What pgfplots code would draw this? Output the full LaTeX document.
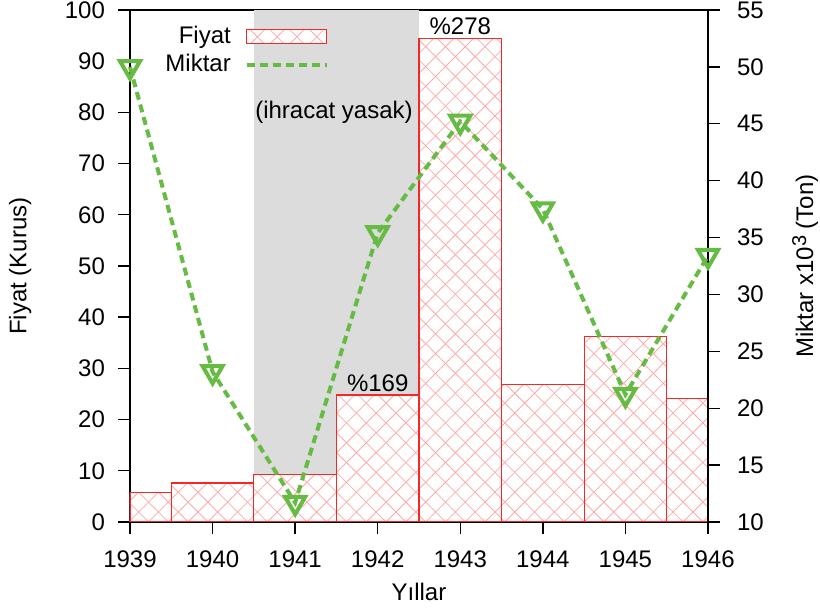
\documentclass[border=0pt]{standalone}
\usepackage{fontspec}
\setmainfont{Liberation Sans}
\usepackage{pgfplots}
\pgfplotsset{compat=1.18}
\usetikzlibrary{patterns.meta}
\definecolor{mgreen}{RGB}{102,187,68}
\definecolor{mred}{RGB}{245,40,40}
\definecolor{mhatch}{RGB}{255,170,170}
\definecolor{mgray}{RGB}{220,220,220}
\pgfplotsset{
  barlegend/.style={legend image code/.code={\path (0pt,0pt); \draw[##1] (5pt,-3.5pt) rectangle (45pt,3.5pt);}},
  linelegend/.style={legend image code/.code={\path (0pt,0pt); \draw[##1] (5pt,0pt) -- (45pt,0pt);}}}
\begin{document}
\begin{tikzpicture}
\path[use as bounding box] (-65pt,-44.5pt) rectangle (345pt,261pt);
\pgfplotsset{common/.style={at={(0,0)}, anchor=south west, scale only axis,
  width=289pt, height=256pt, xmin=1939, xmax=1946,
  /pgf/number format/assume math mode=true, /pgf/number format/1000 sep={},
  tick align=outside, major tick length=6pt,
  tick style={black, line width=0.7pt}, axis line style={line width=0.8pt},
  every tick label/.append style={font=\fontsize{12}{14}\selectfont},
  label style={font=\fontsize{12}{14}\selectfont}}}
\begin{axis}[common, ymin=0, ymax=100, ytick={0,10,...,100}, xtick={1939,...,1946},
  xtick pos=left, ytick pos=left,
  xticklabel style={yshift=-5pt},
  yticklabel style={xshift=-3pt},
  xlabel={Yıllar}, ylabel={Fiyat (Kurus)},
  xlabel style={at={(axis description cs:0.5,-0.137)}, anchor=center},
  ylabel style={at={(axis description cs:-0.19,0.5)}, anchor=center},
  legend plot pos=right,
  legend style={at={(0.355,0.985)}, anchor=north east, draw=none, fill=none,
    legend cell align=right, row sep=0pt, font=\fontsize{12}{14}\selectfont}]
\addplot[fill=mgray, draw=none, forget plot] coordinates {(1940.5,0) (1940.5,100) (1942.5,100) (1942.5,0)};
\addplot[ybar interval, draw=mred, line width=0.6pt, fill=white,
  postaction={pattern={Lines[angle=45,distance=7pt,line width=0.4pt]}, pattern color=mhatch},
  postaction={pattern={Lines[angle=-45,distance=7pt,line width=0.4pt]}, pattern color=mhatch},
  barlegend]
  coordinates {(1939,5.7) (1939.5,7.6) (1940.5,9.2) (1941.5,24.8) (1942.5,94.5) (1943.5,26.8) (1944.5,36.2) (1945.5,24.1) (1946,24.1)};
\addlegendentry{Fiyat}
\addlegendimage{mgreen, line width=2pt, dash pattern=on 4pt off 2.5pt, linelegend}
\addlegendentry{Miktar}
\node[anchor=south, inner sep=1.5pt, font=\fontsize{12}{14}\selectfont] at (axis cs:1943,94.5) {\%278};
\node[anchor=south, inner sep=1.5pt, font=\fontsize{12}{14}\selectfont] at (axis cs:1942,24.8) {\%169};
\node[font=\fontsize{12}{14}\selectfont] at (axis cs:1941.47,80) {(ihracat yasak)};
\end{axis}
\begin{axis}[common, ymin=10, ymax=55, ytick={10,15,...,55},
  axis y line*=right, axis x line=none, clip=false,
  yticklabel style={xshift=5pt},
  ylabel={Miktar x10\raisebox{0.55ex}{\fontsize{10}{12}\selectfont 3} (Ton)},
  ylabel style={at={(axis description cs:1.168,0.5)}, anchor=center}]
\addplot[mgreen, line width=2pt, dash pattern=on 4pt off 2.5pt, mark=triangle, mark size=5.8pt,
  mark options={solid, rotate=180, line width=2pt}]
  coordinates {(1939,50) (1940,23.2) (1941,11.7) (1942,35.4) (1943,45.2) (1944,37.5) (1945,21.2) (1946,33.4)};
\end{axis}
\end{tikzpicture}
\end{document}
